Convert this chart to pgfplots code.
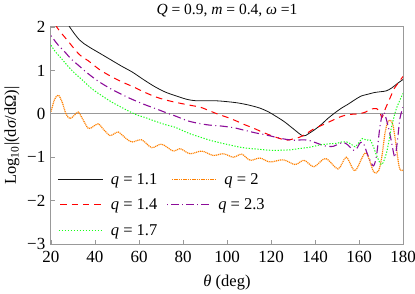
\documentclass[border=0pt]{standalone}
\usepackage{fontspec}
\setmainfont{Liberation Serif}
\usepackage{pgfplots}
\pgfplotsset{compat=1.18}
\definecolor{cBlack}{rgb}{0.08,0.08,0.08}
\definecolor{cRed}{rgb}{1,0,0}
\definecolor{cGreen}{rgb}{0.1,1,0.1}
\definecolor{cOrange}{rgb}{1,0.5,0}
\definecolor{cPurple}{rgb}{0.55,0.05,0.6}
\definecolor{cFrame}{rgb}{0.6,0.6,0.6}
\newcommand{\lsample}[3]{\textcolor{#1}{\xleaders\hbox to #2{\hss#3\hss}\hskip 45bp}\hspace{8bp}}
\begin{document}
\fontsize{16.5bp}{19bp}\selectfont
\begin{tikzpicture}
\begin{axis}[
  scale only axis, width=352bp, height=217bp,
  xmin=20, xmax=180, ymin=-3, ymax=2,
  axis line style={cFrame, line width=1bp},
  tick pos=left, tick align=inside,
  major tick style={cFrame, line width=0.8bp},
  major tick length=4bp,
  xtick={20,40,...,180}, xticklabels={20,40,60,80,100,120,140,160,180},
  ytick={-3,-2,-1,0,1,2}, yticklabels={−3,−2,−1,0,1,2},
  tick label style={font=\fontsize{17bp}{19bp}\selectfont},
  xticklabel style={yshift=-1bp},
  title={\textit{Q} = 0.9, \textit{m} = 0.4, \textit{ω} =1},
  every axis title/.style={at={(axis description cs:0.5,1.0737)}, anchor=center, font=\fontsize{15.5bp}{18bp}\selectfont},
  xlabel={\textit{θ} (deg)},
  every axis x label/.style={at={(axis description cs:0.5,-0.1797)}, anchor=center},
  ylabel={Log\textsubscript{10}|(d\textit{σ}/dΩ)|},
  every axis y label/.style={at={(axis description cs:-0.1108,0.5)}, anchor=center, rotate=90},
  legend columns=2,
  legend style={draw=none, fill=none, at={(axis description cs:0.002,0.335)}, anchor=north west,
    inner sep=0pt, row sep=8bp,
    /tikz/every even column/.append style={column sep=0bp},
    /tikz/every odd column/.append style={column sep=4bp}},
  legend image code/.code={},
]
\coordinate (bl) at (rel axis cs:0,0);
\coordinate (tr) at (rel axis cs:1,1);
\addplot[cFrame, line width=0.8bp, forget plot] coordinates {(20,0) (180,0)};

% q = 1.1
\addplot[smooth, cBlack, line width=0.8bp] coordinates {
(20,2.75) (24,2.4) (28.5,2.0) (33,1.70) (37,1.55) (42,1.40) (47,1.25) (52,1.10) (57,0.96) (62,0.79)
(67,0.63) (72,0.50) (77,0.41) (82,0.33) (86,0.30) (90,0.30) (95,0.30) (100,0.28) (105,0.25) (110,0.20)
(115,0.13) (119,0.04) (122,-0.05) (126,-0.18) (130,-0.34) (134.5,-0.51) (137,-0.46) (140,-0.36) (143,-0.24)
(146,-0.10) (149,0.02) (152,0.13) (155,0.22) (158,0.32) (161,0.41) (164,0.45) (167,0.49) (170,0.51)
(172.5,0.53) (175,0.60) (177.5,0.70) (180,0.79)};
\addlegendentry{\lsample{cBlack}{1bp}{\rule[4.5bp]{1bp}{0.8bp}}\textit{q} = 1.1}

% q = 2
\addplot[smooth, cOrange, line width=1.2bp, dash pattern=on 1.1bp off 0.8bp] coordinates {
(20,0.05) (21.6,0.33) (23.3,0.43) (25,0.28) (26.8,0.0) (28.6,-0.11) (30.5,-0.04) (32.4,0.04) (34.6,-0.14)
(37,-0.34) (39.3,-0.29) (41.5,-0.23) (44.2,-0.38) (46.8,-0.50) (48.7,-0.46) (50.6,-0.42) (53.7,-0.55)
(56.7,-0.65) (61.2,-0.60) (65.8,-0.78) (70.3,-0.70) (75.6,-0.86) (78.6,-0.80) (83.2,-0.92) (88.5,-0.86)
(93.8,-0.96) (98.3,-0.92) (102.9,-1.0) (106.7,-0.93) (110.5,-1.07) (115,-1.02) (119.5,-1.11) (125.6,-1.06)
(131,-1.17) (135,-1.07) (139.5,-1.22) (144.8,-1.03) (150.5,-1.27) (154.2,-1.0) (158.2,-1.31) (163,-0.9)
(166.7,-1.34) (169,-1.30) (170.5,-0.95) (171.8,-0.45) (173,-0.2) (174.2,-0.15) (175.4,-0.25) (176.8,-0.7)
(178,-1.15) (178.8,-1.30) (180,-1.30)};
\addlegendentry{\lsample{cOrange}{2.25bp}{\rule[4.3bp]{1.5bp}{1.4bp}}\textit{q} = 2}

% q = 1.4
\addplot[smooth, cRed, line width=1bp, dash pattern=on 6.5bp off 5bp] coordinates {
(20,2.3) (22.6,2.0) (27.5,1.69) (32.8,1.37) (37,1.22) (42,1.02) (47,0.87) (52,0.74) (57,0.63) (62,0.51)
(67,0.40) (72,0.32) (78,0.25) (84,0.19) (88,0.15) (92,0.07) (96,-0.01) (100,-0.08) (104,-0.16) (108,-0.25)
(112,-0.33) (116,-0.42) (120,-0.50) (124,-0.57) (127,-0.61) (130,-0.58) (133,-0.54) (136,-0.46) (139,-0.36)
(142,-0.29) (145,-0.22) (148,-0.15) (151,-0.08) (154,-0.03) (157,-0.01) (160,0.0) (163,0.04) (165,0.10)
(168,0.12) (169.5,0.03) (170.5,-0.08) (172,0.12) (174,0.35) (176,0.58) (178,0.72) (180,0.86)};
\addlegendentry{\lsample{cRed}{11.25bp}{\rule[4.5bp]{6.5bp}{1bp}}\textit{q} = 1.4}

% q = 2.3
\addplot[smooth, cPurple, line width=1.1bp, dash pattern=on 1bp off 3.5bp on 8bp off 3.5bp] coordinates {
(20,1.80) (23,1.60) (26.4,1.42) (29,1.27) (32.4,1.12) (37,0.92) (41.5,0.75) (47,0.58) (52,0.45) (57,0.33)
(62.7,0.21) (68,0.11) (72.6,0.02) (77,-0.06) (82,-0.16) (87,-0.22) (92,-0.26) (97,-0.28) (103,-0.32)
(108,-0.38) (113,-0.44) (118,-0.49) (123,-0.55) (127,-0.59) (131,-0.61) (134,-0.60) (137,-0.61) (140,-0.66)
(143.8,-0.73) (146,-0.75) (148.3,-0.75) (151,-0.69) (153,-0.66) (155,-0.72) (157.4,-0.84) (159,-0.80)
(160.5,-0.67) (162,-0.68) (164,-0.95) (166.5,-1.20) (168,-0.95) (169.5,-0.30) (170.9,0.04) (172,-0.05)
(174,-0.45) (175.5,-0.85) (176.4,-1.0) (177.4,-0.65) (178.6,-0.11) (180,0.15)};
\addlegendentry{\lsample{cPurple}{15bp}{\rule[4.5bp]{1.1bp}{1.1bp}\hskip3.5bp\rule[4.5bp]{8bp}{1.1bp}}\textit{q} = 2.3}

% q = 1.7
\addplot[smooth, cGreen, line width=1bp, dash pattern=on 1.3bp off 1.6bp] coordinates {
(20,1.58) (22,1.43) (24.8,1.27) (28,1.08) (30.9,0.93) (34,0.79) (38.5,0.58) (43,0.42) (47.6,0.27) (52,0.15)
(58.2,-0.01) (63,-0.09) (67.3,-0.17) (72,-0.25) (76.4,-0.31) (80,-0.39) (83.2,-0.46) (88,-0.54) (92.3,-0.61)
(97,-0.67) (101.4,-0.72) (106,-0.77) (110.5,-0.80) (115,-0.82) (119.5,-0.84) (124,-0.84) (128.6,-0.83)
(133,-0.80) (137.7,-0.77) (142,-0.72) (146.8,-0.69) (150,-0.68) (152,-0.65) (154.4,-0.65) (156.5,-0.70)
(158.2,-0.76) (160,-0.66) (161.5,-0.57) (163.5,-0.61) (165,-0.60) (166.5,-0.75) (168,-0.96) (170.3,-1.17)
(172.6,-0.88) (174.8,-0.30) (177,0.12) (180,0.47)};
\addlegendentry{\lsample{cGreen}{3bp}{\rule[4.5bp]{1.3bp}{1bp}}\textit{q} = 1.7}
\end{axis}
\pgfresetboundingbox
\path[use as bounding box] ([shift={(-51bp,-50bp)}]bl) rectangle ([shift={(12bp,27bp)}]tr);
\end{tikzpicture}
\end{document}
